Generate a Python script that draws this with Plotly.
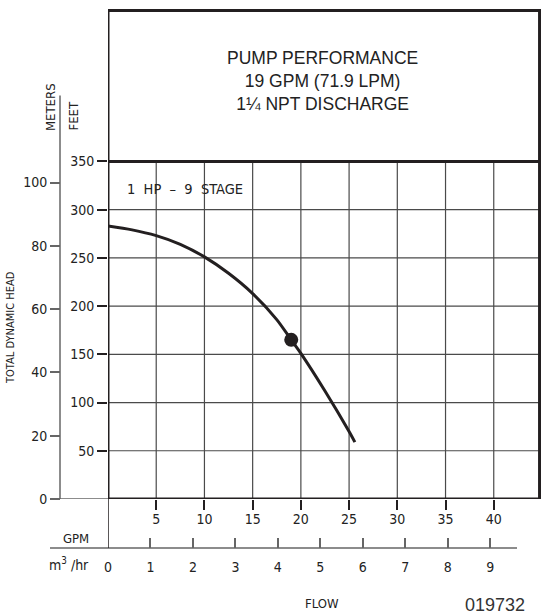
import plotly.graph_objects as go

# ---- data ----
flow_gpm = [0, 2.5, 5, 7.5, 10, 12.5, 15, 17.5, 19, 20, 22.5, 25, 25.6]
head_ft = [283, 279, 273, 264, 251, 234, 213, 186, 165, 151, 112, 70, 59]
duty_gpm = [19]
duty_ft = [165]

gpm_ticks = [5, 10, 15, 20, 25, 30, 35, 40]
m3hr_ticks = [0, 1, 2, 3, 4, 5, 6, 7, 8, 9]
ft_ticks = [50, 100, 150, 200, 250, 300, 350]
m_ticks = [0, 20, 40, 60, 80, 100]
grid_h_ft = [50, 100, 150, 200, 250, 300]
grid_v_gpm = [5, 10, 15, 20, 25, 30, 35, 40]

title_lines = ["PUMP PERFORMANCE", "19 GPM (71.9 LPM)", "1\u00bc NPT DISCHARGE"]
curve_label = "1  HP  \u2013  9  STAGE"

W, H = 541, 614
GPM_MAX = 44.9
FT_MAX = 508
FT_TO_M = 0.3048
GPM_PER_M3HR = 4.4029

NARROW = "DejaVu Sans Condensed, Liberation Sans Narrow, sans-serif"
SANS = "Liberation Sans, Arial, sans-serif"
INK = "#231f20"
GRID = "#4a4a4a"
GRAY = "#666666"

def px(xp):
    return xp / W

def py(yp):
    return (H - yp) / H

fig = go.Figure()

fig.add_trace(go.Scatter(
    x=flow_gpm, y=head_ft, mode="lines",
    line=dict(color=INK, width=3, shape="spline", smoothing=0.8),
    hoverinfo="skip", showlegend=False))
fig.add_trace(go.Scatter(
    x=duty_gpm, y=duty_ft, mode="markers",
    marker=dict(color=INK, size=14), showlegend=False))
fig.add_trace(go.Scatter(x=[0], y=[0], yaxis="y2", mode="markers",
                         marker=dict(opacity=0), showlegend=False, hoverinfo="skip"))
fig.add_trace(go.Scatter(x=[0], y=[0], xaxis="x2", mode="markers",
                         marker=dict(opacity=0), showlegend=False, hoverinfo="skip"))

shapes = []
for g in grid_v_gpm:
    shapes.append(dict(type="line", xref="x", yref="y", x0=g, x1=g, y0=0, y1=350,
                       line=dict(color=GRID, width=1.2), layer="below"))
for f in grid_h_ft:
    shapes.append(dict(type="line", xref="x", yref="y", x0=0, x1=GPM_MAX, y0=f, y1=f,
                       line=dict(color=GRID, width=1.2), layer="below"))
frame = dict(color=INK, width=3)
shapes.append(dict(type="line", xref="x", yref="y", x0=0, x1=0, y0=0, y1=FT_MAX - 0.5, line=frame))
shapes.append(dict(type="line", xref="x", yref="y", x0=0, x1=GPM_MAX, y0=0, y1=0, line=frame))
shapes.append(dict(type="line", xref="x", yref="y", x0=0, x1=GPM_MAX, y0=350, y1=350, line=frame))
shapes.append(dict(type="line", xref="x", yref="y", x0=0, x1=GPM_MAX, y0=FT_MAX - 1.5, y1=FT_MAX - 1.5, line=frame))
shapes.append(dict(type="line", xref="x", yref="y", x0=GPM_MAX - 0.15, x1=GPM_MAX - 0.15, y0=0, y1=FT_MAX - 0.5, line=frame))
shapes.append(dict(type="line", xref="paper", yref="y2", x0=px(60), x1=px(60), y0=0, y1=127.5,
                   line=dict(color=GRAY, width=1.5)))
shapes.append(dict(type="line", xref="paper", yref="y", x0=px(50), x1=px(108), y0=0, y1=0,
                   line=dict(color=GRAY, width=1.5)))
shapes.append(dict(type="line", xref="paper", yref="paper", x0=px(50), x1=px(517), y0=py(548), y1=py(548),
                   line=dict(color=GRAY, width=1.5)))
shapes.append(dict(type="line", xref="x", yref="paper", x0=0, x1=0, y0=py(548), y1=py(499),
                   line=dict(color=INK, width=1.5)))

annotations = [
    dict(text="<br>".join(title_lines), xref="paper", yref="paper", x=px(322), y=py(81),
         xanchor="center", yanchor="middle", showarrow=False,
         font=dict(family=SANS, size=17.5, color="#222222")),
    dict(text=curve_label, xref="x", yref="y", x=8.0, y=321, xanchor="center", yanchor="middle",
         showarrow=False, font=dict(family=NARROW, size=14.5, color="#222222")),
    dict(text="METERS", xref="paper", yref="paper", x=px(50), y=py(133), textangle=-90,
         xanchor="center", yanchor="bottom", showarrow=False,
         font=dict(family=NARROW, size=13, color="#222222")),
    dict(text="FEET", xref="paper", yref="paper", x=px(72.5), y=py(133), textangle=-90,
         xanchor="center", yanchor="bottom", showarrow=False,
         font=dict(family=NARROW, size=13, color="#222222")),
    dict(text="TOTAL DYNAMIC HEAD", xref="paper", yref="paper", x=px(10), y=py(328), textangle=-90,
         xanchor="center", yanchor="middle", showarrow=False,
         font=dict(family=NARROW, size=11, color="#222222")),
    dict(text="GPM", xref="paper", yref="paper", x=px(76), y=py(538),
         xanchor="center", yanchor="middle", showarrow=False,
         font=dict(family=NARROW, size=13, color="#222222")),
    dict(text="m<sup>3</sup> /hr", xref="paper", yref="paper", x=px(69), y=py(564),
         xanchor="center", yanchor="middle", showarrow=False,
         font=dict(family=NARROW, size=14, color="#222222")),
    dict(text="FLOW", xref="paper", yref="paper", x=px(322), y=py(603),
         xanchor="center", yanchor="middle", showarrow=False,
         font=dict(family=NARROW, size=13, color="#222222")),
    dict(text="019732", xref="paper", yref="paper", x=px(495), y=py(604.5),
         xanchor="center", yanchor="middle", showarrow=False,
         font=dict(family=SANS, size=18, color="#333333")),
]

tickfont = dict(family=NARROW, size=14, color="#222222")

fig.update_layout(
    width=W, height=H,
    margin=dict(l=0, r=0, t=0, b=0, autoexpand=False),
    paper_bgcolor="white", plot_bgcolor="white",
    showlegend=False,
    shapes=shapes,
    annotations=annotations,
    xaxis=dict(domain=[px(108), 1], range=[0, GPM_MAX], tickvals=gpm_ticks,
               ticks="outside", ticklen=10, tickwidth=1.5, tickcolor=INK,
               showgrid=False, zeroline=False, showline=False, tickfont=tickfont,
               ticklabelstandoff=-3, automargin=False, fixedrange=True),
    yaxis=dict(domain=[py(499), py(9)], range=[0, FT_MAX], tickvals=ft_ticks,
               ticks="outside", ticklen=10, tickwidth=1.5, tickcolor=INK,
               showgrid=False, zeroline=False, showline=False, tickfont=tickfont,
               automargin=False, fixedrange=True),
    yaxis2=dict(overlaying="y", anchor="free", position=px(60), side="left",
                range=[0, FT_MAX * FT_TO_M], tickvals=m_ticks,
                ticks="outside", ticklen=10, tickwidth=1.5, tickcolor=GRAY,
                showgrid=False, zeroline=False, showline=False, tickfont=tickfont,
                automargin=False, fixedrange=True),
    xaxis2=dict(overlaying="x", anchor="free", position=py(548), side="bottom",
                range=[0, GPM_MAX / GPM_PER_M3HR], tickvals=m3hr_ticks,
                ticks="inside", ticklen=10, tickwidth=1.5, tickcolor=GRAY,
                showgrid=False, zeroline=False, showline=False, tickfont=tickfont,
                ticklabelstandoff=9, automargin=False, fixedrange=True),
)

fig.write_html("out.html", config={"displayModeBar": False},
               post_script="document.body.style.margin='0';document.body.style.overflow='hidden';")
